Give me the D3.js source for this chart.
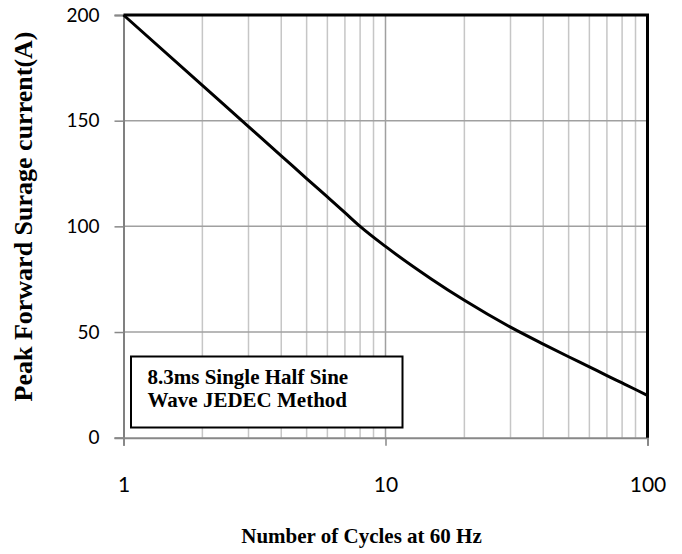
<!DOCTYPE html>
<html>
<head>
<meta charset="utf-8">
<script src="https://cdn.jsdelivr.net/npm/d3@7"></script>
<style>
  html, body { margin: 0; padding: 0; background: #fff; }
  svg { display: block; }
</style>
</head>
<body>
<svg id="chart" width="682" height="554"></svg>
<script>
// ---- data ----
const cycles  = [1, 2, 3, 4, 5, 6, 7, 8, 10, 15, 20, 30, 40, 50, 60, 70, 80, 90, 100];
const current = [200, 166.7, 147.2, 133.4, 122.6, 113.9, 106.5, 100, 90.5, 75, 65, 52.3, 44.3, 38.3, 33.5, 29.4, 25.9, 22.8, 20];
const xTickValues = [1, 10, 100];
const xTickLabels = ["1", "10", "100"];
const xMinorGrid = [2, 3, 4, 5, 6, 7, 8, 9, 20, 30, 40, 50, 60, 70, 80, 90];
const yTickValues = [0, 50, 100, 150, 200];
const yTitle = "Peak Forward Surage current(A)";
const xTitle = "Number of Cycles at 60 Hz";
const legendLines = ["8.3ms Single Half Sine", "Wave JEDEC Method"];

// ---- layout ----
const L = 123.5, R = 647.5, T = 15, B = 437.7;
const svg = d3.select("#chart");
const x = d3.scaleLog().domain([1, 100]).range([L, R]);
const y = d3.scaleLinear().domain([0, 200]).range([B, T]);

// minor vertical gridlines
svg.append("g").selectAll("line").data(xMinorGrid).join("line")
  .attr("x1", d => x(d)).attr("x2", d => x(d))
  .attr("y1", T).attr("y2", B)
  .attr("stroke", "#c6c6c6").attr("stroke-width", 1.5);

// major vertical gridline(s)
svg.append("g").selectAll("line").data(xTickValues.slice(1, -1)).join("line")
  .attr("x1", d => x(d)).attr("x2", d => x(d))
  .attr("y1", T).attr("y2", B)
  .attr("stroke", "#a0a0a0").attr("stroke-width", 1.5);

// horizontal gridlines
svg.append("g").selectAll("line").data(yTickValues.slice(1, -1)).join("line")
  .attr("x1", L).attr("x2", R)
  .attr("y1", d => y(d)).attr("y2", d => y(d))
  .attr("stroke", "#a0a0a0").attr("stroke-width", 1.5);

// y axis
const yAxis = d3.axisLeft(y).tickValues(yTickValues).tickSize(9).tickPadding(15).tickFormat(d3.format("d"));
const gy = svg.append("g").attr("transform", `translate(${L},0)`).call(yAxis);
gy.select(".domain").attr("stroke", "#808080").attr("stroke-width", 2);
gy.selectAll(".tick line").attr("stroke", "#888").attr("stroke-width", 1.5);
gy.selectAll(".tick text").attr("font-family", "Lato, 'Open Sans', sans-serif")
  .attr("font-size", 19).attr("fill", "#000");

// x axis
const xAxis = d3.axisBottom(x).tickValues(xTickValues).tickSize(8)
  .tickFormat((d, i) => xTickLabels[i]).tickPadding(0);
const gx = svg.append("g").attr("transform", `translate(0,${B})`).call(xAxis);
gx.select(".domain").attr("stroke", "#888").attr("stroke-width", 2);
gx.selectAll(".tick line").attr("stroke", "#888").attr("stroke-width", 1.5);
gx.selectAll(".tick text").attr("font-family", "Lato, 'Open Sans', sans-serif")
  .attr("font-size", 21).attr("fill", "#000")
  .attr("dy", null).attr("y", 492 - B);

// curve
const line = d3.line().x((d, i) => x(cycles[i])).y(d => y(d)).curve(d3.curveMonotoneX);
svg.append("path").datum(current)
  .attr("d", line).attr("fill", "none")
  .attr("stroke", "#000").attr("stroke-width", 3).attr("stroke-linejoin", "round");

// top & right borders
svg.append("path")
  .attr("d", `M${L},${T}H${R}V${B}`)
  .attr("fill", "none").attr("stroke", "#000").attr("stroke-width", 3);

// legend box
svg.append("rect").attr("x", 131).attr("y", 356.5).attr("width", 271.5).attr("height", 71)
  .attr("fill", "#fff").attr("stroke", "#000").attr("stroke-width", 2);
svg.append("g").selectAll("text").data(legendLines).join("text")
  .attr("x", 147.5).attr("y", (d, i) => 384.3 + i * 22.4)
  .attr("font-family", "'Liberation Serif', 'Times New Roman', serif")
  .attr("font-weight", "bold").attr("font-size", 21).attr("fill", "#000")
  .text(d => d);

// axis titles
svg.append("text")
  .attr("transform", "translate(32,216.5) rotate(-90)")
  .attr("text-anchor", "middle")
  .attr("font-family", "'Liberation Serif', 'Times New Roman', serif")
  .attr("font-weight", "bold").attr("font-size", 26).attr("fill", "#000")
  .text(yTitle);
svg.append("text")
  .attr("x", 361.5).attr("y", 543)
  .attr("text-anchor", "middle")
  .attr("font-family", "'Liberation Serif', 'Times New Roman', serif")
  .attr("font-weight", "bold").attr("font-size", 21).attr("fill", "#000")
  .text(xTitle);
</script>
</body>
</html>
